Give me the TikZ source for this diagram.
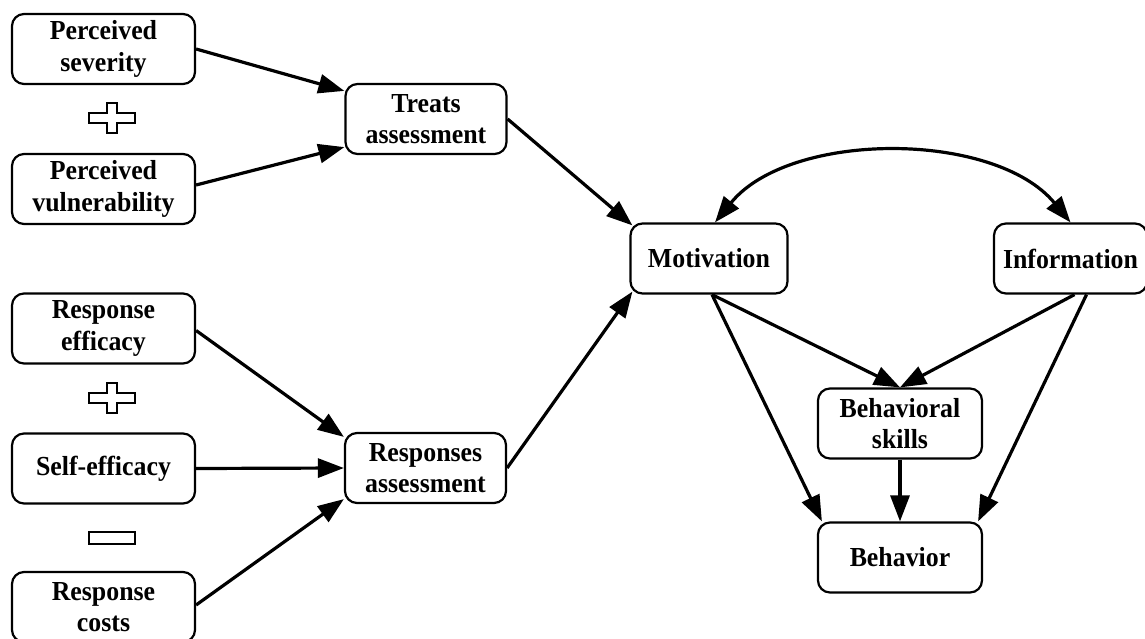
\documentclass[tikz,border=0pt]{standalone}
\usepackage{fontspec}
\setmainfont[FakeStretch=0.94]{Liberation Serif}
\usetikzlibrary{arrows.meta,calc}
\begin{document}
\begin{tikzpicture}[x=1pt,y=-1pt,
  box/.style={draw, line width=2.2pt, rounded corners=12pt, align=center, inner sep=0pt,
    font=\fontsize{27.5}{31.5}\selectfont\bfseries, minimum height=70pt},
  lbox/.style={box, minimum width=183pt},
  mbox/.style={box, minimum width=161pt},
  tip/.style={},
  arr/.style={line width=3.2pt, -{Triangle[length=26pt,width=19pt]}},
  sign/.style={draw, line width=1.8pt}
]
\useasboundingbox (0,0) rectangle (1145,639);
% left column
\node[lbox] (sev) at (103.5,49) {Perceived\\severity};
\node[lbox] (vul) at (103.5,189) {Perceived\\vulnerability};
\node[lbox] (eff) at (103.5,328.5) {Response\\efficacy};
\node[lbox] (self) at (103.5,468.5) {Self-efficacy};
\node[lbox] (costs) at (103.5,607) {Response\\costs};
% middle
\node[mbox] (treat) at (426,119) {Treats\\assessment};
\node[mbox] (resp) at (425.5,468) {Responses\\assessment};
% right
\node[box, minimum width=157pt] (mot) at (709,258.5) {Motivation};
\node[box, minimum width=153pt] (info) at (1070.5,258.5) {Information};
\node[box, minimum width=164pt] (bsk) at (900,423.5) {Behavioral\\skills};
\node[box, minimum width=164pt] (beh) at (900,557.5) {Behavior};
% plus / minus signs
\foreach \cx/\cy in {112/118, 112/398}{
  \draw[sign] (\cx-23,\cy-5) -- (\cx-5,\cy-5) -- (\cx-5,\cy-15) -- (\cx+5,\cy-15) -- (\cx+5,\cy-5)
    -- (\cx+23,\cy-5) -- (\cx+23,\cy+5) -- (\cx+5,\cy+5) -- (\cx+5,\cy+15) -- (\cx-5,\cy+15)
    -- (\cx-5,\cy+5) -- (\cx-23,\cy+5) -- cycle;
}
\draw[sign] (89,532) rectangle (135,544);
% arrows
\draw[arr] (sev.east) -- ([yshift=-8pt]treat.north west);
\draw[arr] ([yshift=4pt]vul.east) -- ([yshift=8pt]treat.south west);
\draw[arr] (treat.east) -- ([shift={(3pt,-3pt)}]mot.north west);
\draw[arr] (resp.east) -- ([shift={(3pt,3pt)}]mot.south west);
\draw[arr] ([yshift=-2pt]eff.east) -- ([yshift=-5pt]resp.north west);
\draw[arr] (self.east) -- (resp.west);
\draw[arr] ([yshift=2pt]costs.east) -- ([yshift=5pt]resp.south west);
\draw[arr] ([xshift=3pt]mot.south) -- (bsk.north);
\draw[arr] ([xshift=3pt]mot.south) -- ([xshift=5pt]beh.north west);
\draw[arr] ([xshift=4pt]info.south) -- (bsk.north);
\draw[arr] ([xshift=16pt]info.south) -- ([xshift=-5pt]beh.north east);
\draw[arr] (bsk.south) -- (beh.north);
\draw[line width=3.2pt, {Triangle[length=26pt,width=19pt]}-{Triangle[length=26pt,width=19pt]}]
  ([xshift=6pt]mot.north) .. controls +(75,-92) and +(-76,-92) .. (info.north);
\end{tikzpicture}
\end{document}
